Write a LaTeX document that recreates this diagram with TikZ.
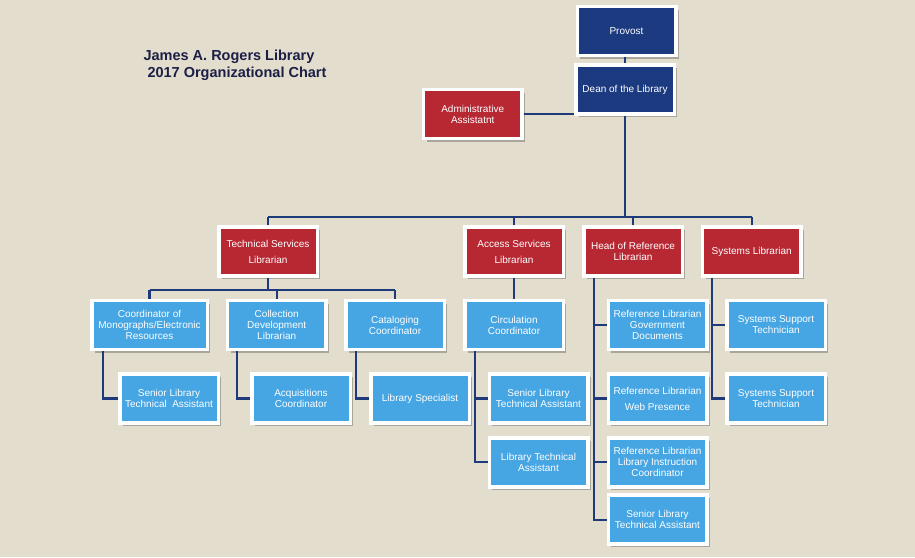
\documentclass[tikz,border=0pt]{standalone}
\usepackage{fontspec}
\setmainfont{Liberation Sans}
\usetikzlibrary{shadows}
\definecolor{bg}{HTML}{E3DDCE}
\definecolor{navy}{HTML}{1B3A80}
\definecolor{crimson}{HTML}{B72833}
\definecolor{sky}{HTML}{46A5E3}
\definecolor{linec}{HTML}{1F3A7A}
\definecolor{titlec}{HTML}{1C1F45}
\begin{document}
\begin{tikzpicture}[x=1pt,y=-1pt,
  box/.style={draw=white, line width=3.5pt, minimum width=98.5pt, minimum height=49pt,
    inner sep=1pt, align=center, text=white, font=\fontsize{10}{11}\selectfont,
    drop shadow={shadow xshift=3.2pt, shadow yshift=-3.2pt, opacity=0.25, fill=black}},
  navybox/.style={box, fill=navy},
  redbox/.style={box, fill=crimson},
  bluebox/.style={box, fill=sky},
  conn/.style={draw=linec, line width=2.2pt},
  titletext/.style={text=titlec, font=\fontsize{14.5}{17}\selectfont\bfseries, inner sep=0pt}]
\useasboundingbox[fill=bg] (0,0) rectangle (915,557);

\node[titletext] (t1) at (229,57) {James A. Rogers Library};
\node[titletext] (t2) at (237,74) {2017 Organizational Chart};

\node[navybox] (provost) at (626.5,31) {Provost};
\node[navybox] (dean) at (625,89.5) {Dean of the Library};
\node[redbox] (admin) at (472.7,114) {Administrative\\Assistatnt};

\node[redbox] (tech) at (268,251.5) {Technical Services\\[5pt]Librarian};
\node[redbox] (access) at (514,251.5) {Access Services\\[5pt]Librarian};
\node[redbox] (headref) at (633,251.5) {Head of Reference\\Librarian};
\node[redbox] (sys) at (751.7,251.5) {Systems Librarian};

\node[bluebox, minimum width=115.5pt] (mono) at (149.5,325) {Coordinator of\\Monographs/Electronic\\Resources};
\node[bluebox] (coll) at (276.7,325) {Collection\\Development\\Librarian};
\node[bluebox] (cat) at (395,325) {Cataloging\\Coordinator};
\node[bluebox] (circ) at (514,325) {Circulation\\Coordinator};
\node[bluebox] (ref1) at (657.5,325) {Reference Librarian\\Government\\Documents};
\node[bluebox] (sys1) at (776,325) {Systems Support\\Technician};

\node[bluebox] (sen1) at (169,398.5) {Senior Library\\Technical~~Assistant};
\node[bluebox] (acq) at (301,398.5) {Acquisitions\\Coordinator};
\node[bluebox] (spec) at (420,398.5) {Library Specialist};
\node[bluebox] (sen2) at (538.5,398.5) {Senior Library\\Technical Assistant};
\node[bluebox] (ref2) at (657.5,398.5) {Reference Librarian\\[5pt]Web Presence};
\node[bluebox] (sys2) at (776,398.5) {Systems Support\\Technician};

\node[bluebox] (libtech) at (538.5,462.3) {Library Technical\\Assistant};
\node[bluebox] (ref3) at (657.5,462.3) {Reference Librarian\\Library Instruction\\Coordinator};
\node[bluebox] (ref4) at (657.5,519.7) {Senior Library\\Technical Assistant};

\coordinate (bus1) at (0,216.7);
\coordinate (bus2) at (0,290);
\coordinate (xmono) at (102.7,0);
\coordinate (xcoll) at (236.7,0);
\coordinate (xcat) at (356,0);
\coordinate (xcirc) at (475,0);
\coordinate (xref) at (594,0);
\coordinate (xsys) at (712.3,0);

\draw[conn] (dean.north |- provost.south) -- (dean.north);
\draw[conn] (admin.east) -- (admin.east -| dean.west);
\draw[conn] (dean.south) -- (dean.south |- bus1);
\draw[conn] (tech.north |- bus1) -- (sys.north |- bus1);
\foreach \n in {tech,access,headref,sys} \draw[conn] (\n.north) -- (\n.north |- bus1);

\draw[conn] (tech.south) -- (tech.south |- bus2);
\draw[conn] (mono.north |- bus2) -- (cat.north |- bus2);
\foreach \n in {mono,coll,cat} \draw[conn] (\n.north) -- (\n.north |- bus2);
\draw[conn] (access.south) -- (circ.north);

\draw[conn] (mono.south -| xmono) |- (sen1.west);
\draw[conn] (coll.south -| xcoll) |- (acq.west);
\draw[conn] (cat.south -| xcat) |- (spec.west);
\draw[conn] (circ.south -| xcirc) |- (libtech.west);
\draw[conn] (sen2.west -| xcirc) -- (sen2.west);

\draw[conn] (headref.south -| xref) |- (ref4.west);
\foreach \n in {ref1,ref2,ref3} \draw[conn] (\n.west -| xref) -- (\n.west);
\draw[conn] (sys.south -| xsys) |- (sys2.west);
\draw[conn] (sys1.west -| xsys) -- (sys1.west);
\end{tikzpicture}
\end{document}
